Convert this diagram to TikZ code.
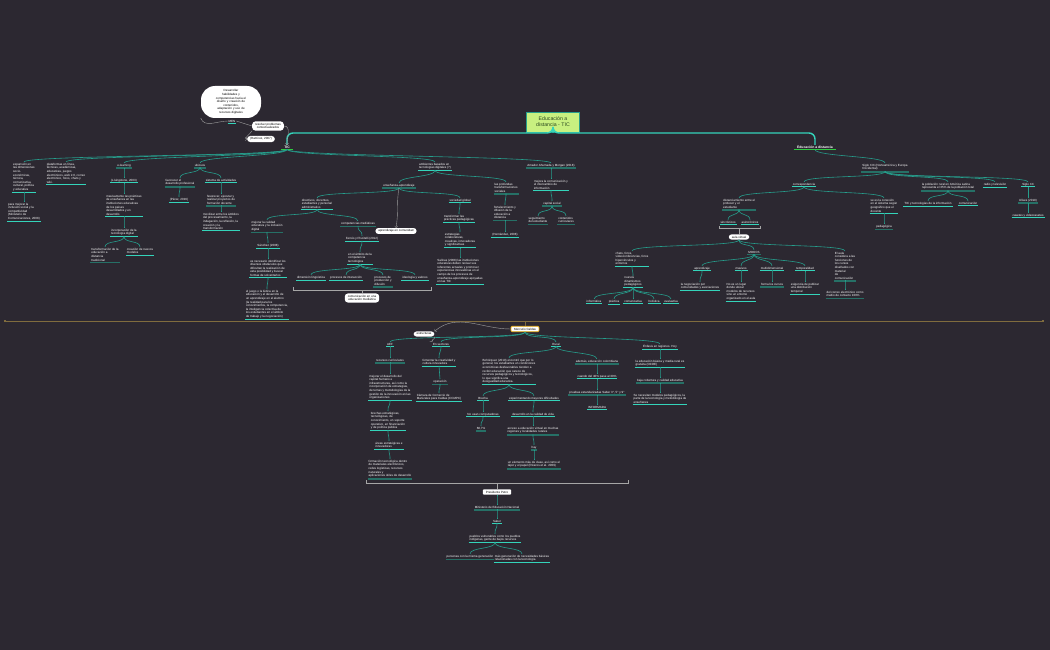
\documentclass[tikz,border=0pt]{standalone}
\usepackage{fontspec}
\setmainfont{Liberation Sans}
\definecolor{bgmap}{RGB}{44,40,49}
\definecolor{conn}{RGB}{38,158,140}
\definecolor{ulbright}{RGB}{52,212,186}
\definecolor{uldark}{RGB}{38,112,102}
\definecolor{ulgreen}{RGB}{46,204,64}
\definecolor{headfill}{RGB}{200,240,128}
\definecolor{headtext}{RGB}{40,70,30}
\definecolor{mercbord}{RGB}{240,180,20}
\definecolor{sepline}{RGB}{128,108,62}
\newcommand\mapfont{\fontsize{3}{3.6}\selectfont}
\tikzset{
  leaf/.style={text=white, font=\mapfont, align=left, inner sep=0.8pt, anchor=north},
  ulb/.style={leaf, append after command={\pgfextra{\let\ulnode=\tikzlastnode}(\ulnode.south west) edge[draw=ulbright, line width=0.6pt](\ulnode.south east)}},
  uld/.style={leaf, append after command={\pgfextra{\let\ulnode=\tikzlastnode}([yshift=-0.5pt]\ulnode.south west) edge[draw=uldark, line width=1.6pt]([yshift=-0.5pt]\ulnode.south east)}},
  ulg/.style={leaf, font=\fontsize{3.4}{4}\selectfont\bfseries, append after command={\pgfextra{\let\ulnode=\tikzlastnode}([xshift=-2pt]\ulnode.south west) edge[draw=ulgreen, line width=0.9pt]([xshift=2pt]\ulnode.south east)}},
  wbox/.style={fill=white, rounded corners=3pt, text=black, font=\mapfont, align=center, inner xsep=3pt, inner ysep=1.6pt},
  headbox/.style={fill=headfill, draw=conn, line width=0.8pt, text=headtext, font=\fontsize{5.2}{6.2}\selectfont, align=center, minimum width=53pt, minimum height=20pt},
  branch/.style={draw=conn, line width=0.6pt, to path={.. controls ([yshift=-7pt]\tikztostart) and ([yshift=7pt]\tikztotarget) .. (\tikztotarget)}},
  trunk/.style={draw=ulbright, line width=1.4pt, rounded corners=6pt},
  note/.style={draw=gray!75, line width=0.4pt},
  bracket/.style={draw=gray!70, line width=0.6pt},
  sep/.style={draw=sepline, line width=0.8pt}
}
\begin{document}
\begin{tikzpicture}[x=1pt, y=-1pt]
\fill[bgmap](0,0) rectangle (1050,650);
\useasboundingbox (0,0) rectangle (1050,650);

% cabecera
\node(head)[headbox] at (553,122) {Educación a\\distancia - TIC};
\node(tic)[ulg] at (287,145) {TIC};
\node(edu)[ulg] at (815,145) {Educación a distancia};
\draw[trunk](head.south) -- (553,133) -| (tic.north);
\draw[trunk](head.south) -- (553,133) -| (edu.north);

% notas
\node(cloud)[wbox, rounded corners=14pt, text width=54pt, minimum height=32pt] at (231,102) {Desarrollar\\habilidades y\\competencias hacia el\\diseño y creación de\\contenidos,\\adaptación y uso de\\recursos digitales};
\node(men)[ulb] at (232,119) {MEN};
\node(resolv)[wbox] at (268,126) {resolver problemas\\contextualizados};
\node(ramir)[wbox] at (261,139) {(Ramírez, 2007)};
\draw[note](men.west) to[out=180,in=-70](cloud.south west);
\draw[note](men.east) -- (resolv.west);
\draw[note,->](resolv.south west) to[out=-120,in=180](ramir.west);
\draw[note,->](resolv.east) to[out=0,in=90](tic.north);

% TIC
\node(expan)[ulb] at (24,162) {expansión en\\las dimensiones\\socio-\\económicas,\\técnica,\\comunicativa,\\cultural, política\\y educativa};
\node(inclu)[ulb] at (24,202) {para mejorar la\\inclusión social y la\\competitividad\\(Ministerio de\\Comunicaciones, 2008)};
\node(plata)[ulb] at (66,162) {plataformas en línea,\\técnicas, académicas,\\educativas, juegos\\electrónicos, web 2.0, correo\\electrónico, foros, chats y\\wiki.};
\node(elearn)[uld] at (124,163) {e-learning};
\node(living)[ulb] at (124,178) {(Livingstone, 2003)};
\node(masiv)[ulb] at (124,194) {masivamente las prácticas\\de enseñanza en las\\instituciones educativas\\de los países\\desarrollados y en\\desarrollo};
\node(incorp)[ulb] at (124,228) {incorporación de la\\tecnología digital};
\node(transf)[uld] at (105,247) {transformación de la\\educación a\\distancia\\tradicional};
\node(nuevos)[ulb] at (140,247) {creación de nuevos\\modelos};
\node(ubicuo)[uld] at (200,163) {ubicuos};
\node(favor)[uld] at (180,178) {favorecer el\\desarrollo profesional};
\node(perez)[ulb] at (179,197) {(Pérez, 2016)};
\node(sistem)[ulb] at (221,178) {sistema de actividades};
\node(ejecut)[uld] at (221,194) {favorecer, ejecutar y\\realizar proyectos de\\formación docente};
\node(movil)[ulb] at (221,212) {movilizar entre los ámbitos\\del procesamiento, la\\indagación, la reflexión, la\\creación y la\\transformación};

\node(ambien)[ulb] at (435,162) {ambientes basados en\\tecnologías digitales (?)};
\node(ensen)[uld] at (399,183) {enseñanza-aprendizaje};
\node(direct)[ulb] at (317,198) {directivos, docentes,\\estudiantes y personal\\administrativo};
\node(mejor)[uld] at (267,220) {mejorar la calidad\\educativa y la inclusión\\digital};
\node(sanch)[ulb] at (268,243) {Sánchez (2008)};
\node(obstac)[ulb] at (268,259) {es necesario identificar los\\diversos obstáculos que\\dificultan la realización de\\esta posibilidad y buscar\\formas de solventarlos};
\node(ludica)[ulb] at (267,289) {el juego o la lúdica en la\\educación y el desarrollo de\\un aprendizaje en el alumno\\(la realidad para los\\conocimientos, la competencia,\\la inteligencia colectiva de\\los estudiantes en el ámbito\\de trabajo y la negociación)};
\node(compet)[uld] at (358,221) {competencias mediáticas};
\node(ferres)[ulb] at (362,236) {Ferrés y Piscitelli (2012)};
\node(ambito)[ulb] at (360,252) {en el ámbito de la\\competencia\\tecnológica};
\node(lingu)[ulb] at (311,275) {dimensión lingüística};
\node(interac)[ulb] at (346,275) {procesos de interacción};
\node(produc)[uld] at (383,275) {procesos de\\producción y\\difusión};
\node(ideol)[ulb] at (415,275) {ideología y valores};
\node(comedu)[wbox] at (362,298) {comunicación en una\\educación mediática};
\node(aprcom)[wbox] at (396,231) {aprendizaje en comunidad};
\node(socied)[ulb] at (460,198) {sociedad global};
\node(transp)[ulb] at (459,214) {transformar las\\prácticas pedagógicas};
\node(estrat)[ulb] at (460,232) {estrategias\\colaborativas,\\creativas, innovadoras\\y significativas};
\node(salin)[ulb] at (460,258) {Salinas (2008) las instituciones\\educativas deben revisar sus\\referentes actuales y promover\\experiencias innovadoras en el\\campo de los procesos de\\enseñanza-aprendizaje apoyadas\\en las TIC};
\node(profun)[uld] at (506,182) {las profundas\\transformaciones\\sociales};
\node(fortal)[uld] at (505,205) {fortalecimiento y\\difusión de la\\educación a\\distancia};
\node(hernan)[ulb] at (505,232) {(Hernández, 2008)};
\node(amador)[uld] at (551,163) {Amador Ahumada y Morgan (2018)};
\node(comint)[ulb] at (551,179) {mejora la comunicación y\\el intercambio de\\información};
\node(capsoc)[uld] at (552,201) {capital social};
\node(seguim)[uld] at (538,216) {seguimiento\\del estudiante};
\node(conten)[uld] at (566,216) {contenidos\\curriculares};

\coordinate(brl) at (293,290);
\coordinate(brr) at (431,290);
\coordinate(brm) at (362,290);
\draw[bracket]([yshift=3pt]brl) -- (brl) -- (brr) -- ([yshift=3pt]brr);
\draw[bracket](brm) -- (comedu.north);

\draw[branch](tic.south) to (expan.north);
\draw[branch](tic.south) to (plata.north);
\draw[branch](tic.south) to (elearn.north);
\draw[branch](tic.south) to (ubicuo.north);
\draw[branch](tic.south) to (ambien.north);
\draw[branch](tic.south) to (amador.north);
\draw[branch](expan.south) to (inclu.north);
\draw[branch](elearn.south) to (living.north);
\draw[branch](living.south) to (masiv.north);
\draw[branch](masiv.south) to (incorp.north);
\draw[branch](incorp.south) to (transf.north);
\draw[branch](incorp.south) to (nuevos.north);
\draw[branch](ubicuo.south) to (favor.north);
\draw[branch](ubicuo.south) to (sistem.north);
\draw[branch](favor.south) to (perez.north);
\draw[branch](sistem.south) to (ejecut.north);
\draw[branch](ejecut.south) to (movil.north);
\draw[branch](ambien.south) to (ensen.north);
\draw[branch](ambien.south) to (profun.north);
\draw[branch](ensen.south) to (direct.north);
\draw[branch](ensen.south) to (socied.north);
\draw[note,->](ensen.south) to[out=-100,in=80](aprcom.north);
\draw[branch](direct.south) to (mejor.north);
\draw[branch](direct.south) to (compet.north);
\draw[branch](mejor.south) to (sanch.north);
\draw[branch](sanch.south) to (obstac.north);
\draw[branch](obstac.south) to (ludica.north);
\draw[branch](compet.south) to (ferres.north);
\draw[branch](ferres.south) to (ambito.north);
\draw[branch](ambito.south) to (lingu.north);
\draw[branch](ambito.south) to (interac.north);
\draw[branch](ambito.south) to (produc.north);
\draw[branch](ambito.south) to (ideol.north);
\draw[branch](socied.south) to (transp.north);
\draw[branch](transp.south) to (estrat.north);
\draw[branch](estrat.south) to (salin.north);
\draw[branch](profun.south) to (fortal.north);
\draw[branch](fortal.south) to (hernan.north);
\draw[branch](amador.south) to (comint.north);
\draw[branch](comint.south) to (capsoc.north);
\draw[branch](capsoc.south) to (seguim.north);
\draw[branch](capsoc.south) to (conten.north);

% Educacion a distancia
\node(siglo)[uld] at (885,163) {Siglo XIX (Norteamérica y Europa\\Occidental)};
\node(corres)[ulb] at (804,182) {correspondencia};
\node(distan)[uld] at (739,198) {distanciamiento entre el\\profesor y el\\estudiante};
\node(sincr)[ulb] at (728,220) {sincrónicos};
\node(asincr)[ulb] at (750,220) {asincrónicos};
\node(aula)[wbox] at (739,237) {aula virtual};
\node(chats)[ulb] at (632,251) {chats, foros,\\videoconferencias, foros\\hipervínculos y\\entornos};
\node(dinam)[ulb] at (633,276) {nuevos\\dinamismos\\pedagógicos};
\node(inform)[ulb] at (594,299) {informática};
\node(pract)[ulb] at (614,299) {práctica};
\node(comunic)[ulb] at (633,299) {comunicativa};
\node(holis)[ulb] at (654,299) {holística};
\node(evalu)[ulb] at (671,299) {evaluativa};
\node(mooc)[uld] at (754,250) {MOOCS};
\node(aprend)[ulb] at (702,266) {aprendizaje};
\node(negoc)[ulb] at (700,282) {la negociación por\\comunidades y asociaciones};
\node(masivo)[ulb] at (741,266) {masivos};
\node(nolugar)[ulb] at (741,282) {No es un lugar\\donde ubicar\\modelos de recursos\\sino un entorno\\organizado en el aula};
\node(multid)[ulb] at (772,266) {multidimensional};
\node(cursos)[uld] at (772,282) {forma los cursos};
\node(tempor)[ulb] at (805,266) {temporalidad};
\node(exigen)[ulb] at (805,282) {exigencia de publicar\\una distribución\\temporal};
\node(ellis)[uld] at (845,251) {El aula\\considera a las\\funciones de\\los cursos\\diseñados con\\material\\de\\comunicación};
\node(correo)[uld] at (845,290) {del correo electrónico como\\medio de contacto 100\%};
\node(conex)[ulb] at (884,198) {se es la conexión\\en el sistema según\\geográfico que el\\docente};
\node(pedag)[uld] at (884,224) {pedagógica};
\node(rural)[uld] at (948,182) {la población rural en América Latina\\representa el 35\% de la población total};
\node(ticinf)[ulb] at (928,201) {TIC y tecnologías de la información};
\node(comuni)[ulb] at (968,201) {comunicación};
\node(radio)[ulb] at (995,182) {radio y televisión};
\node(sigxx)[ulb] at (1028,182) {Siglo XX};
\node(ulises)[uld] at (1028,198) {Ulises (2019)};
\node(caset)[ulb] at (1028,213) {casetes y videocasetes};

\coordinate(bal) at (719,228);
\coordinate(bar) at (760,228);
\coordinate(bam) at (739,228);
\draw[bracket]([yshift=2pt]bal) -- (bal) -- (bar) -- ([yshift=2pt]bar);
\draw[bracket](bam) -- (aula.north);

\draw[branch](edu.south) to (siglo.north);
\draw[branch](siglo.south) to (corres.north);
\draw[branch](siglo.south) to (rural.north);
\draw[branch](siglo.south) to (radio.north);
\draw[branch](siglo.south) to (sigxx.north);
\draw[branch](corres.south) to (distan.north);
\draw[branch](corres.south) to (conex.north);
\draw[branch](distan.south) to (sincr.north);
\draw[branch](distan.south) to (asincr.north);
\draw[branch](aula.south) to (chats.north);
\draw[branch](aula.south) to (mooc.north);
\draw[branch](aula.south) to (ellis.north);
\draw[branch](chats.south) to (dinam.north);
\draw[branch](dinam.south) to (inform.north);
\draw[branch](dinam.south) to (pract.north);
\draw[branch](dinam.south) to (comunic.north);
\draw[branch](dinam.south) to (holis.north);
\draw[branch](dinam.south) to (evalu.north);
\draw[branch](mooc.south) to (aprend.north);
\draw[branch](mooc.south) to (masivo.north);
\draw[branch](mooc.south) to (multid.north);
\draw[branch](mooc.south) to (tempor.north);
\draw[branch](aprend.south) to (negoc.north);
\draw[branch](masivo.south) to (nolugar.north);
\draw[branch](multid.south) to (cursos.north);
\draw[branch](tempor.south) to (exigen.north);
\draw[branch](ellis.south) to (correo.north);
\draw[branch](conex.south) to (pedag.north);
\draw[branch](rural.south) to (ticinf.north);
\draw[branch](rural.south) to (comuni.north);
\draw[branch](sigxx.south) to (ulises.north);
\draw[branch](ulises.south) to (caset.north);

% separador
\coordinate(sepl) at (5,321);
\coordinate(sepr) at (1043,321);
\coordinate(sepm) at (525,321);
\draw[sep](sepl) -- (sepr);
\fill[sepline]([shift={(-1.2,-1.2)}]sepl) rectangle ([shift={(1.2,1.2)}]sepl);
\fill[sepline]([shift={(-1.2,-1.2)}]sepr) rectangle ([shift={(1.2,1.2)}]sepr);

% Mercurio Caldas
\node(merc)[wbox, draw=mercbord, line width=0.8pt, rounded corners=1pt] at (525,329) {Mercurio Caldas};
\draw[sep](sepm) -- (merc.north);
\node(estruc)[wbox] at (424,334) {estructuras};
\node(aef)[ulb] at (390,342) {AEF};
\node(recur)[uld] at (390,358) {recursos curriculares};
\node(capit)[ulb] at (390,374) {mejorar el desarrollo del\\capital humano e\\infraestructuras, así como la\\incorporación de estrategias,\\de temas y metodologías de la\\gestión de la innovación en las\\organizaciones};
\node(brechas)[ulb] at (388,411) {brechas estratégicas,\\tecnológicas, de\\conocimiento, en soporte\\operativo, en financiación\\y de política pública};
\node(areas)[ulb] at (389,441) {áreas estratégicas e\\innovadoras};
\node(format)[uld] at (390,459) {formación tecnológica dentro\\de materiales electrónicos,\\redes logísticas, recursos\\naturales y\\aplicaciones útiles de desarrollo};
\node(sector)[ulb] at (441,342) {En sectores};
\node(fomen)[ulb] at (439,358) {fomentar la creatividad y\\cultura innovadora};
\node(operac)[uld] at (440,379) {operación};
\node(camara)[ulb] at (439,393) {Cámara de Comercio de\\Manizales para Caldas (CCMPC)};
\node(rurl)[ulb] at (556,342) {Rural};
\node(bohor)[ulb] at (509,358) {Bohórquez (2019) encontró que por lo\\general, los estudiantes en condiciones\\económicas desfavorables tienden a\\recibir educación que carece de\\recursos pedagógicos y tecnológicos,\\lo que significa una\\desigualdad educativa.};
\node(brecha)[ulb] at (483,396) {Brecha};
\node(nousan)[ulb] at (483,412) {No usan computadoras};
\node(pct)[uld] at (481,426) {68,7\%};
\node(experi)[ulb] at (534,396) {experimentando mayores dificultades};
\node(desarr)[ulb] at (533,412) {desarrollo en la calidad de vida};
\node(acceso)[uld] at (533,426) {acceso a educación virtual en muchas\\regiones y localidades rurales};
\node(hay)[uld] at (534,445) {hay};
\node(elem)[uld] at (534,460) {un elemento más de clase, así como el\\lápiz y el papel (Riveros et al. 2009)};
\node(ademas)[uld] at (597,359) {además, educación colombiana};
\node(cuando)[ulb] at (597,374) {cuando del 40\% pase al 30\%};
\node(prueba)[uld] at (597,390) {pruebas estandarizadas Saber 3°, 5° y 9°};
\node(inforfm)[ulb] at (597,405) {INFORMADA};
\node(enfas)[ulb] at (660,344) {Énfasis en regiones. Hoy};
\node(gratu)[ulb] at (660,359) {la educación básica y media rural es\\gratuita (OCDE)};
\node(cobert)[uld] at (660,378) {baja cobertura y calidad educativa};
\node(modelo)[ulb] at (660,393) {Se necesitan modelos pedagógicos, la\\parte de la tecnología y metodología de\\enseñanza};

\draw[branch](merc.south) to (aef.north);
\draw[branch](merc.south) to (sector.north);
\draw[branch](merc.south) to (rurl.north);
\draw[branch](merc.south) to (enfas.north);
\draw[note,->](merc.west) to[out=180,in=40](estruc.north east);
\draw[note,->](estruc.south east) to[out=-60,in=120](sector.north west);
\draw[branch](aef.south) to (recur.north);
\draw[branch](recur.south) to (capit.north);
\draw[branch](capit.south) to (brechas.north);
\draw[branch](brechas.south) to (areas.north);
\draw[branch](areas.south) to (format.north);
\draw[branch](sector.south) to (fomen.north);
\draw[branch](fomen.south) to (operac.north);
\draw[branch](operac.south) to (camara.north);
\draw[branch](rurl.south) to (bohor.north);
\draw[branch](rurl.south) to (ademas.north);
\draw[branch](bohor.south) to (brecha.north);
\draw[branch](bohor.south) to (experi.north);
\draw[branch](brecha.south) to (nousan.north);
\draw[branch](nousan.south) to (pct.north);
\draw[branch](experi.south) to (desarr.north);
\draw[branch](desarr.south) to (acceso.north);
\draw[branch](acceso.south) to (hay.north);
\draw[branch](hay.south) to (elem.north);
\draw[branch](ademas.south) to (cuando.north);
\draw[branch](cuando.south) to (prueba.north);
\draw[branch](prueba.south) to (inforfm.north);
\draw[branch](enfas.south) to (gratu.north);
\draw[branch](gratu.south) to (cobert.north);
\draw[branch](cobert.south) to (modelo.north);

% Presidente Petro
\coordinate(sp2l) at (366,483);
\coordinate(sp2r) at (628,483);
\coordinate(sp2m) at (497,483);
\draw[bracket]([yshift=3pt]sp2l) -- (sp2l) -- (sp2r) -- ([yshift=3pt]sp2r);
\node(petro)[wbox, rounded corners=1pt] at (497,492) {Presidente Petro};
\draw[bracket](sp2m) -- (petro.north);
\node(minist)[uld] at (497,505) {Ministerio de Educación Nacional};
\node(saber)[ulb] at (497,519) {Saber};
\node(pueblo)[ulb] at (495,534) {pueblos vulnerables como los pueblos\\indígenas, gente de bajos recursos};
\node(person)[uld] at (470,554) {personas con la misma generación};
\node(necesi)[ulb] at (522,554) {más generación de necesidades básicas\\relacionadas con la tecnología};
\draw[branch](petro.south) to (minist.north);
\draw[branch](minist.south) to (saber.north);
\draw[branch](saber.south) to (pueblo.north);
\draw[branch](pueblo.south) to (person.north);
\draw[branch](pueblo.south) to (necesi.north);
\end{tikzpicture}
\end{document}
